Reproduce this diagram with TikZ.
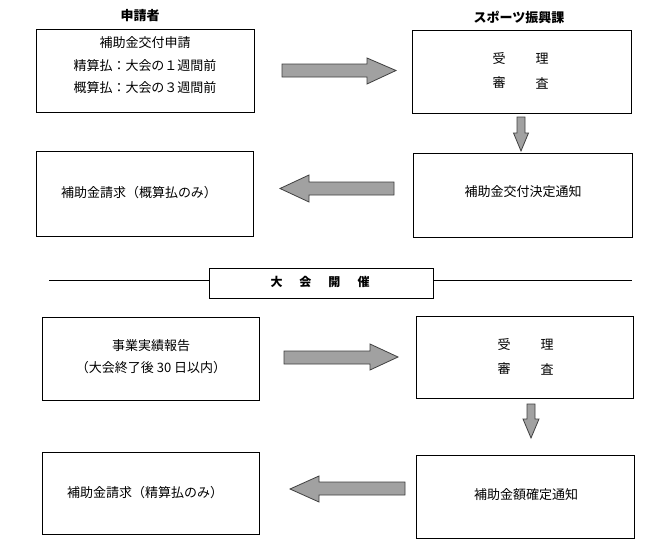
\documentclass[tikz,border=0pt]{standalone}
\usepackage{fontspec}
\setmainfont{Noto Sans CJK JP}
\begin{document}
\begin{tikzpicture}[x=1pt,y=-1pt,
  box/.style={draw=black,line width=0.9pt,inner sep=0pt,fill=white},
  txt/.style={inner sep=0pt,font=\fontsize{13}{15}\selectfont},
  ttl/.style={inner sep=0pt,font=\fontsize{13}{15}\selectfont\bfseries},
  blockarrow/.style={draw=black!75,line width=0.8pt,fill=black!37,line join=miter},
  rule/.style={draw=black,line width=0.9pt}]
\useasboundingbox[fill=white] (0,0) rectangle (659,557);

% titles
\node[ttl] (t1) at (140,16) {申請者};
\node[ttl] (t2) at (519,17) {スポーツ振興課};

% boxes
\node[box,minimum width=218pt,minimum height=83pt] (A) at (145,70.5) {};
\node[box,minimum width=219pt,minimum height=83pt] (B) at (521.5,71.5) {};
\node[box,minimum width=217pt,minimum height=85pt] (C) at (144.5,193.5) {};
\node[box,minimum width=219pt,minimum height=84pt] (D) at (522.5,195) {};
\node[box,minimum width=217pt,minimum height=83pt] (F) at (150.5,358.5) {};
\node[box,minimum width=217pt,minimum height=82pt] (G) at (524.5,357.5) {};
\node[box,minimum width=217pt,minimum height=82pt] (H) at (150.5,493) {};
\node[box,minimum width=218pt,minimum height=83pt] (I) at (525,496.5) {};

% texts in boxes
\node[txt] (a1) at (145,43) {補助金交付申請};
\node[txt] (a2) at (145,66) {精算払：大会の１週間前};
\node[txt] (a3) at (145,88) {概算払：大会の３週間前};
\node[txt] (b1) at (499,59) {受};
\node[txt] (b2) at (542,59) {理};
\node[txt] (b3) at (499,83) {審};
\node[txt] (b4) at (542,83) {査};
\node[txt] (c1) at (139,193) {補助金請求（概算払のみ）};
\node[txt] (d1) at (523,192) {補助金交付決定通知};
\node[txt] (f1) at (151,346) {事業実績報告};
\node[txt] (f2) at (151,368) {（大会終了後 30 日以内）};
\node[txt] (g1) at (504,345) {受};
\node[txt] (g2) at (547,345) {理};
\node[txt] (g3) at (504,369) {審};
\node[txt] (g4) at (547,369) {査};
\node[txt] (h1) at (145,493) {補助金請求（精算払のみ）};
\node[txt] (i1) at (526,495) {補助金額確定通知};

% separator
\coordinate (L0) at (49,280);
\coordinate (L1) at (632,280);
\node[box,minimum width=224pt,minimum height=30pt] (E) at (321,283) {};
\draw[rule] (L0) -- (L0 -| E.west);
\draw[rule] (E.east |- L1) -- (L1);
\node[ttl,font=\fontsize{12}{14}\selectfont\bfseries] (e1) at (320,282) {大\hspace{17pt}会\hspace{17pt}開\hspace{17pt}催};

% block arrows
\draw[blockarrow] (282,64) -- (367,64) -- (367,58) -- (396,70.5) -- (367,84) -- (367,77) -- (282,77) -- cycle;
\draw[blockarrow] (517,117) -- (525,117) -- (525,133) -- (528.5,133) -- (521,151) -- (513.5,133) -- (517,133) -- cycle;
\draw[blockarrow] (394,182) -- (309,182) -- (309,175) -- (280,188.5) -- (309,202) -- (309,195) -- (394,195) -- cycle;
\draw[blockarrow] (284,351) -- (370,351) -- (370,344) -- (398,357) -- (370,370) -- (370,364) -- (284,364) -- cycle;
\draw[blockarrow] (527,404) -- (535,404) -- (535,419) -- (539,419) -- (531,438) -- (523,419) -- (527,419) -- cycle;
\draw[blockarrow] (405,482) -- (319,482) -- (319,476) -- (290,489) -- (319,502) -- (319,495) -- (405,495) -- cycle;
\end{tikzpicture}
\end{document}
